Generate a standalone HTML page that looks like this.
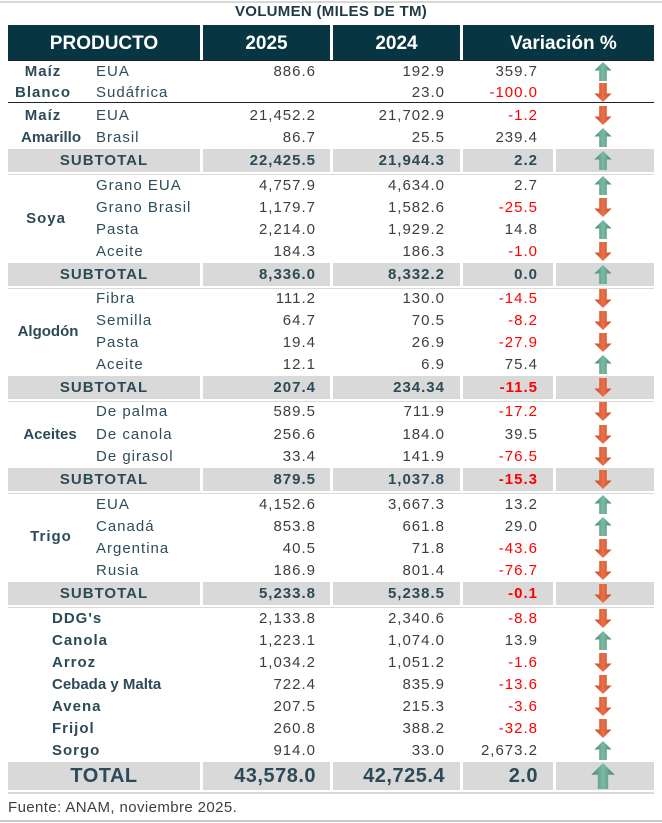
<!DOCTYPE html>
<html><head><meta charset="utf-8"><style>
*{margin:0;padding:0;box-sizing:border-box}
body{width:662px;height:823px;background:#fff;position:relative;overflow:hidden;font-family:"Liberation Sans",sans-serif;color:#3a3f44}
.ab{position:absolute}
.title{left:0;width:662px;top:3px;text-align:center;font-weight:bold;font-size:15px;letter-spacing:0.3px;color:#1e3a44}
.h{position:absolute;top:25px;height:35px;background:#073642;color:#fff;font-weight:bold;font-size:19px;line-height:37px;text-align:center}
.r{position:absolute;left:0;width:662px;height:22px;line-height:23px;font-size:15px;letter-spacing:1px}
.r span{position:absolute;top:0;white-space:nowrap}
.g{font-weight:bold;color:#2c4a58;text-align:center}
.s{left:96px;color:#2f4c5a}
.p{left:52px;font-weight:bold;color:#2c4a58}
.v1{right:346px;text-align:right}
.v2{right:217px;text-align:right}
.v3{right:124px;text-align:right}
.red{color:#f00}
.ar{left:594px;top:2px!important}
.band{position:absolute;height:23px;background:#d9d9d9}
.st .g,.st .v1,.st .v2,.st .v3{font-weight:bold;color:#2c4a58}
.st .red{color:#f00}
.ln{position:absolute;height:1px}
</style></head><body>
<div class="ab" style="left:0;top:1px;width:662px;height:2px;background:#d8d8d8"></div>
<div class="ab title">VOLUMEN (MILES DE TM)</div>
<div class="h" style="left:8px;width:192px">PRODUCTO</div>
<div class="h" style="left:203px;width:127px">2025</div>
<div class="h" style="left:333px;width:127px">2024</div>
<div class="h" style="left:463px;width:191px;padding-left:10px">Variación %</div>
<div class="ln" style="left:8px;top:60px;width:646px;background:#222"></div>
<div class="ln" style="left:8px;top:102px;width:646px;background:#222"></div>
<svg width="0" height="0" style="position:absolute"><defs>
<linearGradient id="gu" x1="0" x2="1"><stop offset="0" stop-color="#3e8a70"/><stop offset=".5" stop-color="#7fb9a4"/><stop offset="1" stop-color="#3e8a70"/></linearGradient>
<linearGradient id="gd" x1="0" x2="1"><stop offset="0" stop-color="#c8451f"/><stop offset=".5" stop-color="#e9714b"/><stop offset="1" stop-color="#c8451f"/></linearGradient>
<symbol id="up" viewBox="0 0 18 20"><polygon points="9,0 18,9 13,9 13,20 5,20 5,9 0,9" fill="url(#gu)"/></symbol>
<symbol id="dn" viewBox="0 0 18 20"><polygon points="9,20 18,11 13,11 13,0 5,0 5,11 0,11" fill="url(#gd)"/></symbol>
</defs></svg>

<!-- bands -->
<div class="band" style="left:8px;width:192px;top:149px"></div><div class="band" style="left:203px;width:127px;top:149px"></div><div class="band" style="left:333px;width:127px;top:149px"></div><div class="band" style="left:463px;width:90px;top:149px"></div><div class="band" style="left:556px;width:98px;top:149px"></div>
<div class="band" style="left:8px;width:192px;top:263px"></div><div class="band" style="left:203px;width:127px;top:263px"></div><div class="band" style="left:333px;width:127px;top:263px"></div><div class="band" style="left:463px;width:90px;top:263px"></div><div class="band" style="left:556px;width:98px;top:263px"></div>
<div class="band" style="left:8px;width:192px;top:376px"></div><div class="band" style="left:203px;width:127px;top:376px"></div><div class="band" style="left:333px;width:127px;top:376px"></div><div class="band" style="left:463px;width:90px;top:376px"></div><div class="band" style="left:556px;width:98px;top:376px"></div>
<div class="band" style="left:8px;width:192px;top:468px"></div><div class="band" style="left:203px;width:127px;top:468px"></div><div class="band" style="left:333px;width:127px;top:468px"></div><div class="band" style="left:463px;width:90px;top:468px"></div><div class="band" style="left:556px;width:98px;top:468px"></div>
<div class="band" style="left:8px;width:192px;top:582px"></div><div class="band" style="left:203px;width:127px;top:582px"></div><div class="band" style="left:333px;width:127px;top:582px"></div><div class="band" style="left:463px;width:90px;top:582px"></div><div class="band" style="left:556px;width:98px;top:582px"></div>
<div class="band" style="left:8px;width:192px;top:762px;height:28px"></div><div class="band" style="left:203px;width:127px;top:762px;height:28px"></div><div class="band" style="left:333px;width:127px;top:762px;height:28px"></div><div class="band" style="left:463px;width:90px;top:762px;height:28px"></div><div class="band" style="left:556px;width:98px;top:762px;height:28px"></div>
<div class="ln" style="left:8px;top:174px;width:646px;background:#d9d9d9"></div>
<div class="ln" style="left:8px;top:288px;width:646px;background:#d9d9d9"></div>
<div class="ln" style="left:8px;top:401px;width:646px;background:#d9d9d9"></div>
<div class="ln" style="left:8px;top:493px;width:646px;background:#d9d9d9"></div>
<div class="ln" style="left:8px;top:607px;width:646px;background:#d9d9d9"></div>
<div class="ln" style="left:8px;top:792px;width:646px;height:2px;background:#d9d9d9"></div>

<div class="r" style="top:60px"><span class="g" style="left:8px;width:70px">Maíz</span><span class="s">EUA</span><span class="v1">886.6</span><span class="v2">192.9</span><span class="v3">359.7</span><svg class="ar ab" width="18" height="19"><use href="#up"/></svg></div>
<div class="r" style="top:81px"><span class="g" style="left:8px;width:70px">Blanco</span><span class="s">Sudáfrica</span><span class="v2">23.0</span><span class="v3 red">-100.0</span><svg class="ar ab" width="18" height="19"><use href="#dn"/></svg></div>
<div class="r" style="top:104px"><span class="g" style="left:8px;width:70px">Maíz</span><span class="s">EUA</span><span class="v1">21,452.2</span><span class="v2">21,702.9</span><span class="v3 red">-1.2</span><svg class="ar ab" width="18" height="19"><use href="#dn"/></svg></div>
<div class="r" style="top:126px"><span class="g" style="left:8px;width:86px;letter-spacing:0">Amarillo</span><span class="s">Brasil</span><span class="v1">86.7</span><span class="v2">25.5</span><span class="v3">239.4</span><svg class="ar ab" width="18" height="19"><use href="#up"/></svg></div>
<div class="r st" style="top:149px"><span class="g" style="left:8px;width:192px">SUBTOTAL</span><span class="v1">22,425.5</span><span class="v2">21,944.3</span><span class="v3">2.2</span><svg class="ar ab" width="18" height="19"><use href="#up"/></svg></div>

<div class="r" style="top:174px"><span class="s">Grano EUA</span><span class="v1">4,757.9</span><span class="v2">4,634.0</span><span class="v3">2.7</span><svg class="ar ab" width="18" height="19"><use href="#up"/></svg></div>
<div class="r" style="top:196px"><span class="s">Grano Brasil</span><span class="v1">1,179.7</span><span class="v2">1,582.6</span><span class="v3 red">-25.5</span><svg class="ar ab" width="18" height="19"><use href="#dn"/></svg></div>
<div class="r" style="top:207px"><span class="g" style="left:8px;width:76px">Soya</span></div>
<div class="r" style="top:218px"><span class="s">Pasta</span><span class="v1">2,214.0</span><span class="v2">1,929.2</span><span class="v3">14.8</span><svg class="ar ab" width="18" height="19"><use href="#up"/></svg></div>
<div class="r" style="top:240px"><span class="s">Aceite</span><span class="v1">184.3</span><span class="v2">186.3</span><span class="v3 red">-1.0</span><svg class="ar ab" width="18" height="19"><use href="#dn"/></svg></div>
<div class="r st" style="top:263px"><span class="g" style="left:8px;width:192px">SUBTOTAL</span><span class="v1">8,336.0</span><span class="v2">8,332.2</span><span class="v3">0.0</span><svg class="ar ab" width="18" height="19"><use href="#up"/></svg></div>

<div class="r" style="top:287px"><span class="s">Fibra</span><span class="v1">111.2</span><span class="v2">130.0</span><span class="v3 red">-14.5</span><svg class="ar ab" width="18" height="19"><use href="#dn"/></svg></div>
<div class="r" style="top:309px"><span class="s">Semilla</span><span class="v1">64.7</span><span class="v2">70.5</span><span class="v3 red">-8.2</span><svg class="ar ab" width="18" height="19"><use href="#dn"/></svg></div>
<div class="r" style="top:320px"><span class="g" style="left:12px;width:72px;letter-spacing:0">Algodón</span></div>
<div class="r" style="top:331px"><span class="s">Pasta</span><span class="v1">19.4</span><span class="v2">26.9</span><span class="v3 red">-27.9</span><svg class="ar ab" width="18" height="19"><use href="#dn"/></svg></div>
<div class="r" style="top:353px"><span class="s">Aceite</span><span class="v1">12.1</span><span class="v2">6.9</span><span class="v3">75.4</span><svg class="ar ab" width="18" height="19"><use href="#up"/></svg></div>
<div class="r st" style="top:376px"><span class="g" style="left:8px;width:192px">SUBTOTAL</span><span class="v1">207.4</span><span class="v2">234.34</span><span class="v3 red">-11.5</span><svg class="ar ab" width="18" height="19"><use href="#dn"/></svg></div>

<div class="r" style="top:400px"><span class="s">De palma</span><span class="v1">589.5</span><span class="v2">711.9</span><span class="v3 red">-17.2</span><svg class="ar ab" width="18" height="19"><use href="#dn"/></svg></div>
<div class="r" style="top:423px"><span class="g" style="left:14px;width:72px;letter-spacing:0">Aceites</span><span class="s">De canola</span><span class="v1">256.6</span><span class="v2">184.0</span><span class="v3">39.5</span><svg class="ar ab" width="18" height="19"><use href="#dn"/></svg></div>
<div class="r" style="top:445px"><span class="s">De girasol</span><span class="v1">33.4</span><span class="v2">141.9</span><span class="v3 red">-76.5</span><svg class="ar ab" width="18" height="19"><use href="#dn"/></svg></div>
<div class="r st" style="top:468px"><span class="g" style="left:8px;width:192px">SUBTOTAL</span><span class="v1">879.5</span><span class="v2">1,037.8</span><span class="v3 red">-15.3</span><svg class="ar ab" width="18" height="19"><use href="#dn"/></svg></div>

<div class="r" style="top:493px"><span class="s">EUA</span><span class="v1">4,152.6</span><span class="v2">3,667.3</span><span class="v3">13.2</span><svg class="ar ab" width="18" height="19"><use href="#up"/></svg></div>
<div class="r" style="top:515px"><span class="s">Canadá</span><span class="v1">853.8</span><span class="v2">661.8</span><span class="v3">29.0</span><svg class="ar ab" width="18" height="19"><use href="#up"/></svg></div>
<div class="r" style="top:525px"><span class="g" style="left:8px;width:86px">Trigo</span></div>
<div class="r" style="top:537px"><span class="s">Argentina</span><span class="v1">40.5</span><span class="v2">71.8</span><span class="v3 red">-43.6</span><svg class="ar ab" width="18" height="19"><use href="#dn"/></svg></div>
<div class="r" style="top:559px"><span class="s">Rusia</span><span class="v1">186.9</span><span class="v2">801.4</span><span class="v3 red">-76.7</span><svg class="ar ab" width="18" height="19"><use href="#dn"/></svg></div>
<div class="r st" style="top:582px"><span class="g" style="left:8px;width:192px">SUBTOTAL</span><span class="v1">5,233.8</span><span class="v2">5,238.5</span><span class="v3 red">-0.1</span><svg class="ar ab" width="18" height="19"><use href="#dn"/></svg></div>

<div class="r" style="top:607px"><span class="p">DDG's</span><span class="v1">2,133.8</span><span class="v2">2,340.6</span><span class="v3 red">-8.8</span><svg class="ar ab" width="18" height="19"><use href="#dn"/></svg></div>
<div class="r" style="top:629px"><span class="p">Canola</span><span class="v1">1,223.1</span><span class="v2">1,074.0</span><span class="v3">13.9</span><svg class="ar ab" width="18" height="19"><use href="#up"/></svg></div>
<div class="r" style="top:651px"><span class="p">Arroz</span><span class="v1">1,034.2</span><span class="v2">1,051.2</span><span class="v3 red">-1.6</span><svg class="ar ab" width="18" height="19"><use href="#dn"/></svg></div>
<div class="r" style="top:673px"><span class="p" style="letter-spacing:0">Cebada y Malta</span><span class="v1">722.4</span><span class="v2">835.9</span><span class="v3 red">-13.6</span><svg class="ar ab" width="18" height="19"><use href="#dn"/></svg></div>
<div class="r" style="top:695px"><span class="p">Avena</span><span class="v1">207.5</span><span class="v2">215.3</span><span class="v3 red">-3.6</span><svg class="ar ab" width="18" height="19"><use href="#dn"/></svg></div>
<div class="r" style="top:717px"><span class="p">Frijol</span><span class="v1">260.8</span><span class="v2">388.2</span><span class="v3 red">-32.8</span><svg class="ar ab" width="18" height="19"><use href="#dn"/></svg></div>
<div class="r" style="top:739px"><span class="p">Sorgo</span><span class="v1">914.0</span><span class="v2">33.0</span><span class="v3">2,673.2</span><svg class="ar ab" width="18" height="19"><use href="#up"/></svg></div>

<div class="r st" style="top:762px;height:28px;line-height:28px;font-size:20px;letter-spacing:0.5px"><span class="g" style="left:8px;width:192px">TOTAL</span><span class="v1">43,578.0</span><span class="v2">42,725.4</span><span class="v3">2.0</span><svg class="ab" style="left:591px;top:1px" width="24" height="26"><use href="#up"/></svg></div>

<div class="ab" style="left:8px;top:799px;font-size:15px;letter-spacing:0.4px;color:#404040">Fuente: ANAM, noviembre 2025.</div>
<div class="ab" style="left:0;top:820px;width:662px;height:2px;background:#c8c8c8"></div>
</body></html>
